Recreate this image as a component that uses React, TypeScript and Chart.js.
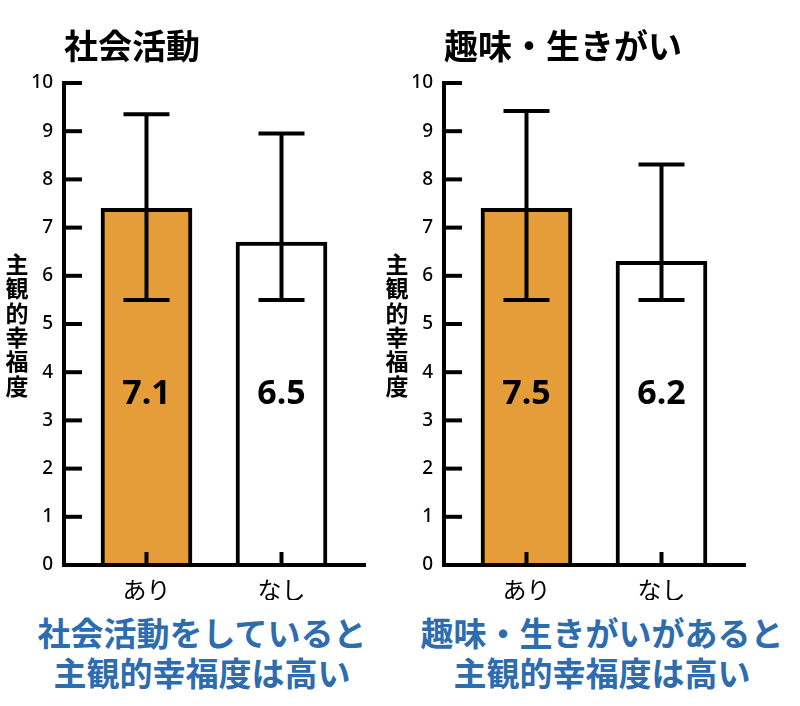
import React, { useEffect, useRef } from "react";
import { Chart, registerables } from "chart.js";

Chart.register(...registerables);

// ---- data ----
const categories = ["あり", "なし"];
const yTickValues = [0, 1, 2, 3, 4, 5, 6, 7, 8, 9, 10];
const yAxisTitle = "主観的幸福度";

const socialTitle = "社会活動";
const socialBars = [7.4, 6.7];
const socialErrHigh = [9.35, 8.95];
const socialErrLow = [5.5, 5.5];
const socialMeans = [7.1, 6.5];
const socialCaption = ["社会活動をしていると", "主観的幸福度は高い"];

const hobbyTitle = "趣味・生きがい";
const hobbyBars = [7.4, 6.3];
const hobbyErrHigh = [9.42, 8.31];
const hobbyErrLow = [5.5, 5.5];
const hobbyMeans = [7.5, 6.2];
const hobbyCaption = ["趣味・生きがいがあると", "主観的幸福度は高い"];

const barColors = ["#E59D3A", "#FFFFFF"];
const captionColor = "#2E6CB0";
const JP = "'Noto Sans CJK JP', 'Noto Sans', sans-serif";
const NUM = "'Noto Sans', 'DejaVu Sans', sans-serif";

type PanelProps = {
  title: string;
  bars: number[];
  errHigh: number[];
  errLow: number[];
  means: number[];
};

function makeDecor(p: PanelProps) {
  return {
    id: "panelDecor",
    afterDatasetsDraw(chart: any) {
      const { ctx, chartArea, scales } = chart;
      const xs = scales.x;
      const ys = scales.y;
      ctx.save();
      ctx.strokeStyle = "#000";
      ctx.fillStyle = "#000";
      ctx.lineWidth = 4;
      ctx.lineCap = "butt";
      // x axis line over bars
      ctx.beginPath();
      ctx.moveTo(chartArea.left - 2, chartArea.bottom);
      ctx.lineTo(chartArea.right, chartArea.bottom);
      ctx.stroke();
      // inward y ticks
      ys.ticks.forEach((t: any) => {
        const py = ys.getPixelForValue(t.value);
        ctx.beginPath();
        ctx.moveTo(chartArea.left, py);
        ctx.lineTo(chartArea.left + 18, py);
        ctx.stroke();
      });
      // inward x ticks
      xs.ticks.forEach((t: any) => {
        const px = xs.getPixelForValue(t.value);
        ctx.beginPath();
        ctx.moveTo(px, chartArea.bottom);
        ctx.lineTo(px, chartArea.bottom - 13);
        ctx.stroke();
      });
      // error bars
      const meta = chart.getDatasetMeta(0);
      p.errHigh.forEach((hi, i) => {
        const px = meta.data[i].x;
        const yh = ys.getPixelForValue(hi);
        const yl = ys.getPixelForValue(p.errLow[i]);
        ctx.beginPath();
        ctx.moveTo(px, yh);
        ctx.lineTo(px, yl);
        ctx.moveTo(px - 23, yh);
        ctx.lineTo(px + 23, yh);
        ctx.moveTo(px - 23, yl);
        ctx.lineTo(px + 23, yl);
        ctx.stroke();
      });
      // mean labels
      ctx.font = `bold 34px ${NUM}`;
      ctx.textAlign = "center";
      ctx.textBaseline = "alphabetic";
      p.means.forEach((m, i) => {
        const px = meta.data[i].x;
        ctx.fillText(m.toFixed(1), px, ys.getPixelForValue(3.34));
      });
      // panel title
      ctx.font = `bold 34px ${JP}`;
      ctx.textAlign = "left";
      ctx.textBaseline = "middle";
      ctx.fillText(p.title, chartArea.left, 46);
      // vertical y-axis title
      ctx.font = `bold 23px ${JP}`;
      ctx.textAlign = "center";
      ctx.textBaseline = "middle";
      Array.from(yAxisTitle).forEach((ch, i) => {
        ctx.fillText(ch, 17, 264 + i * 24.4);
      });
      ctx.restore();
    },
  };
}

function Panel(props: PanelProps & { left: number }) {
  const ref = useRef<HTMLCanvasElement | null>(null);
  useEffect(() => {
    if (!ref.current) return;
    const chart = new Chart(ref.current, {
      type: "bar",
      data: {
        datasets: [
          {
            data: props.bars.map((v, i) => ({ x: i, y: v })),
            backgroundColor: barColors,
            borderColor: "#000",
            borderWidth: 4,
            barThickness: 91,
          },
        ],
      },
      options: {
        responsive: false,
        maintainAspectRatio: false,
        animation: false,
        layout: { padding: { top: 83, left: 0, right: 15, bottom: 0 } },
        plugins: {
          legend: { display: false },
          tooltip: { enabled: false },
          title: { display: false },
        },
        scales: {
          x: {
            type: "linear",
            offset: false,
            bounds: "data",
            min: -0.611,
            max: 1.6185,
            grid: { display: false, drawTicks: false, offset: false },
            border: { display: true, color: "#000", width: 4 },
            afterBuildTicks: (s: any) => {
              s.ticks = categories.map((_, i) => ({ value: i }));
            },
            afterFit: (s: any) => {
              s.height = 35;
              s.paddingLeft = 0;
              s.paddingRight = 0;
            },
            ticks: {
              autoSkip: false,
              maxRotation: 0,
              padding: 10,
              color: "#000",
              font: { family: JP, size: 24 },
              callback: (v: any) => categories[v] ?? "",
            },
          },
          y: {
            min: 0,
            max: 10,
            grid: { display: false, drawTicks: false },
            border: { display: true, color: "#000", width: 4 },
            afterBuildTicks: (s: any) => {
              s.ticks = yTickValues.map((v) => ({ value: v }));
            },
            afterFit: (s: any) => {
              s.width = 64;
              s.paddingTop = 0;
              s.paddingBottom = 0;
            },
            ticks: {
              padding: 11,
              color: "#000",
              font: { family: NUM, size: 19, weight: 500 },
            },
          },
        },
      } as any,
      plugins: [makeDecor(props)],
    });
    return () => chart.destroy();
  }, []);
  return (
    <canvas
      ref={ref}
      width={380}
      height={600}
      style={{ position: "absolute", left: props.left, top: 0, width: 380, height: 600 }}
    />
  );
}

function Caption({ lines, left }: { lines: string[]; left: number }) {
  return (
    <div
      style={{
        position: "absolute",
        left,
        top: 612,
        width: 404,
        textAlign: "center",
        fontFamily: JP,
        fontWeight: 700,
        fontSize: 33,
        lineHeight: "40px",
        color: captionColor,
        whiteSpace: "nowrap",
      }}
    >
      {lines.map((l, i) => (
        <div key={i}>{l}</div>
      ))}
    </div>
  );
}

export default function App() {
  return (
    <div style={{ position: "absolute", left: 0, top: 0, width: 800, height: 706, background: "#fff", overflow: "hidden" }}>
      <Panel left={0} title={socialTitle} bars={socialBars} errHigh={socialErrHigh} errLow={socialErrLow} means={socialMeans} />
      <Panel left={380} title={hobbyTitle} bars={hobbyBars} errHigh={hobbyErrHigh} errLow={hobbyErrLow} means={hobbyMeans} />
      <Caption lines={socialCaption} left={0} />
      <Caption lines={hobbyCaption} left={400} />
    </div>
  );
}
